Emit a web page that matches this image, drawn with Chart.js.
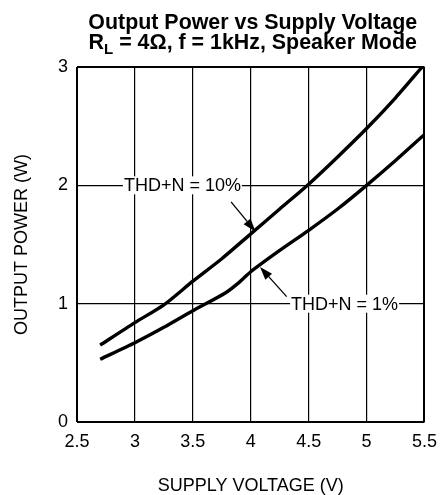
<!DOCTYPE html>
<html>
<head>
<meta charset="utf-8">
<script src="https://cdn.jsdelivr.net/npm/chart.js@4/dist/chart.umd.min.js"></script>
<style>
  html, body { margin: 0; padding: 0; background: #fff; }
  #wrap { width: 446px; height: 495px; }
</style>
</head>
<body>
<div id="wrap"><canvas id="myChart"></canvas></div>
<script>
var FONT = '"Liberation Sans", Arial, sans-serif';

// values
var voltage10 = [2.7, 3.0, 3.25, 3.5, 3.75, 4.0, 4.25, 4.5, 4.75, 5.0, 5.25, 5.48];
var power10   = [0.65, 0.84, 0.99, 1.19, 1.38, 1.59, 1.80, 2.01, 2.24, 2.48, 2.74, 3.0];
var voltage1  = [2.7, 3.0, 3.25, 3.5, 3.78, 3.9, 4.0, 4.25, 4.5, 4.75, 5.0, 5.25, 5.5];
var power1    = [0.53, 0.67, 0.80, 0.94, 1.09, 1.18, 1.27, 1.45, 1.62, 1.80, 2.0, 2.21, 2.43];

var xTicks = [2.5, 3, 3.5, 4, 4.5, 5, 5.5];
var yTicks = [0, 1, 2, 3];

var titleLine1 = 'Output Power vs Supply Voltage';
var titleLine2 = ['R', 'L', ' = 4\u03A9, f = 1kHz, Speaker Mode'];

// label text, label anchor (x, y), arrow start, arrow tip
var notes = [
  { text: 'THD+N = 10%', at: [3.41, 2.0], from: [3.83, 1.86], to: [4.04, 1.61] },
  { text: 'THD+N = 1%',  at: [4.81, 1.0], from: [4.31, 1.06], to: [4.08, 1.31] }
];

function pairs(xs, ys) {
  var out = [];
  for (var i = 0; i < xs.length; i++) {
    out.push({ x: xs[i], y: ys[i] });
  }
  return out;
}

var titlePlugin = {
  id: 'twoLineTitle',
  afterDraw: function(chart) {
    var ctx = chart.ctx;
    var cx = (chart.chartArea.left + chart.chartArea.right) / 2 + 2;
    var big = 'bold 21.4px ' + FONT;
    var small = 'bold 15px ' + FONT;
    ctx.save();
    ctx.fillStyle = '#000';
    ctx.textBaseline = 'alphabetic';
    ctx.font = big;
    ctx.textAlign = 'center';
    ctx.fillText(titleLine1, cx, 29);

    // second line with subscript L
    var w0 = ctx.measureText(titleLine2[0]).width;
    var w2 = ctx.measureText(titleLine2[2]).width;
    ctx.font = small;
    var w1 = ctx.measureText(titleLine2[1]).width;
    var x = cx - (w0 + w1 + w2) / 2;
    ctx.textAlign = 'left';
    ctx.font = big;
    ctx.fillText(titleLine2[0], x, 48.5);
    ctx.font = small;
    ctx.fillText(titleLine2[1], x + w0, 53.5);
    ctx.font = big;
    ctx.fillText(titleLine2[2], x + w0 + w1, 48.5);
    ctx.restore();
  }
};

var notePlugin = {
  id: 'notes',
  afterDatasetsDraw: function(chart) {
    var ctx = chart.ctx;
    var xs = chart.scales.x, ys = chart.scales.y;
    ctx.save();
    ctx.font = '18px ' + FONT;
    ctx.textAlign = 'center';
    ctx.textBaseline = 'middle';
    notes.forEach(function(n) {
      var lx = xs.getPixelForValue(n.at[0]);
      var ly = ys.getPixelForValue(n.at[1]);
      var w = ctx.measureText(n.text).width;
      ctx.fillStyle = '#fff';
      ctx.fillRect(lx - w / 2 - 1, ly - 9, w + 2, 18);
      ctx.fillStyle = '#000';
      ctx.fillText(n.text, lx, ly + 1);

      var x1 = xs.getPixelForValue(n.from[0]), y1 = ys.getPixelForValue(n.from[1]);
      var x2 = xs.getPixelForValue(n.to[0]), y2 = ys.getPixelForValue(n.to[1]);
      var a = Math.atan2(y2 - y1, x2 - x1);
      var len = 13, half = 4.5;
      var bx = x2 - len * Math.cos(a), by = y2 - len * Math.sin(a);
      ctx.strokeStyle = '#000';
      ctx.lineWidth = 1.3;
      ctx.beginPath();
      ctx.moveTo(x1, y1);
      ctx.lineTo(bx, by);
      ctx.stroke();
      ctx.beginPath();
      ctx.moveTo(x2, y2);
      ctx.lineTo(bx + half * Math.sin(a), by - half * Math.cos(a));
      ctx.lineTo(bx - half * Math.sin(a), by + half * Math.cos(a));
      ctx.closePath();
      ctx.fill();
    });
    ctx.restore();
  }
};

function edgeWidth(ctx) {
  var n = ctx.scale.ticks.length;
  return (ctx.index === 0 || ctx.index === n - 1) ? 2 : 1.2;
}

var chart = new Chart(document.getElementById('myChart'), {
  type: 'line',
  data: {
    datasets: [
      {
        label: 'THD+N = 10%',
        data: pairs(voltage10, power10),
        borderColor: '#000',
        borderWidth: 3.4,
        pointRadius: 0,
        tension: 0.25,
        fill: false
      },
      {
        label: 'THD+N = 1%',
        data: pairs(voltage1, power1),
        borderColor: '#000',
        borderWidth: 3.4,
        pointRadius: 0,
        tension: 0.25,
        fill: false
      }
    ]
  },
  options: {
    events: [],  // no hover
    animation: false,
    responsive: true,
    maintainAspectRatio: false,
    layout: {
      padding: { left: 0, right: 13, top: 67, bottom: 0 }
    },
    plugins: {
      legend: { display: false },
      tooltip: { enabled: false },
      title: { display: false }
    },
    scales: {
      x: {
        type: 'linear',
        min: 2.5,
        max: 5.5,
        afterBuildTicks: function(scale) {
          scale.ticks = xTicks.map(function(v) { return { value: v }; });
        },
        afterFit: function(scale) { scale.height = 73; },
        grid: { color: '#000', lineWidth: edgeWidth, drawTicks: false },
        border: { display: false },
        ticks: {
          color: '#000',
          padding: 9,
          maxRotation: 0,
          font: { family: FONT, size: 18 },
          callback: function(v) { return String(v); }
        },
        title: {
          display: true,
          text: 'SUPPLY VOLTAGE (V)',
          color: '#000',
          padding: 0,
          font: { family: FONT, size: 18, lineHeight: 1 }
        }
      },
      y: {
        type: 'linear',
        min: 0,
        max: 3,
        afterBuildTicks: function(scale) {
          scale.ticks = yTicks.map(function(v) { return { value: v }; });
        },
        afterFit: function(scale) { scale.width = 77; },
        grid: { color: '#000', lineWidth: edgeWidth, drawTicks: false },
        border: { display: false },
        ticks: {
          color: '#000',
          padding: 9,
          font: { family: FONT, size: 18 }
        },
        title: {
          display: true,
          text: 'OUTPUT POWER (W)',
          color: '#000',
          padding: { top: 13, bottom: 0 },
          font: { family: FONT, size: 18, lineHeight: 1 }
        }
      }
    }
  },
  plugins: [titlePlugin, notePlugin]
});
</script>
</body>
</html>
